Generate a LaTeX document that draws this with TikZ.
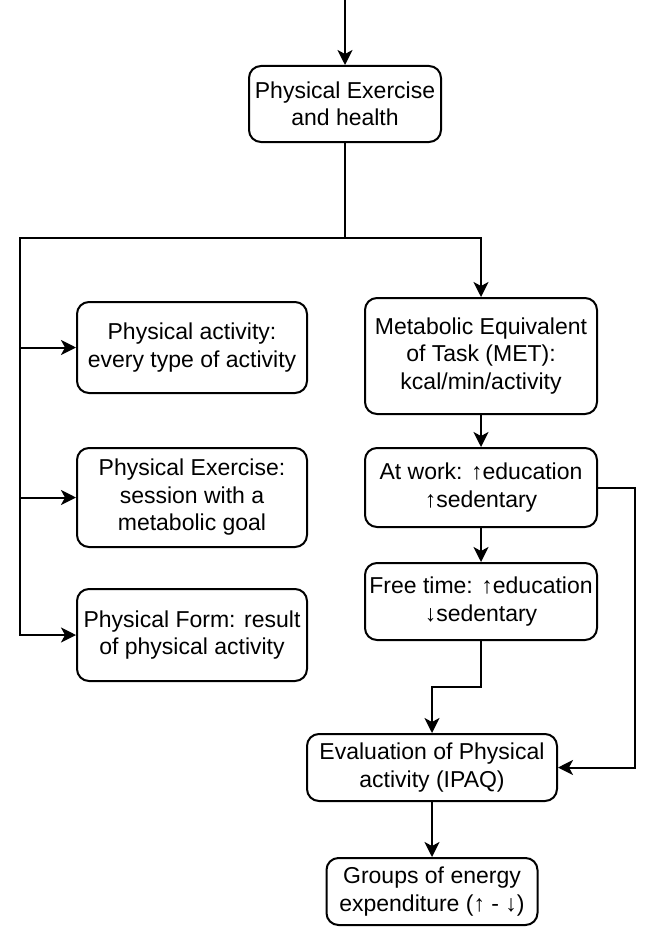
\documentclass[tikz,border=0pt]{standalone}
\usepackage{fontspec}
\setmainfont{Liberation Sans}
\usetikzlibrary{arrows.meta}
\begin{document}
\begin{tikzpicture}[x=1pt,y=-1pt,
  box/.style={draw,line width=2pt,rounded corners=12pt,align=center,
    inner sep=0pt,font=\fontsize{23}{27.5}\selectfont},
  link/.style={line width=2pt},
  arr/.style={link,-{Stealth[length=15pt,width=15pt,inset=4pt]}}]
  \fill[white] (0,0) rectangle (645,931);
  \useasboundingbox (0,0) rectangle (645,931);

  % boxes
  \node[box,minimum width=192pt,minimum height=76pt] (top) at (345,104) {Physical Exercise\\and health};
  \node[box,minimum width=230pt,minimum height=91pt] (pa) at (192,347.5) {Physical activity:\\every type of activity};
  \node[box,minimum width=230pt,minimum height=99pt] (pe) at (192,497.5) {Physical Exercise:\\session with a\\metabolic goal};
  \node[box,minimum width=230pt,minimum height=92pt] (pf) at (192,635) {Physical Form: result\\of physical activity};
  \node[box,minimum width=232pt,minimum height=116pt] (met) at (481,356) {Metabolic Equivalent\\of Task (MET):\\kcal/min/activity};
  \node[box,minimum width=232pt,minimum height=79pt] (work) at (481,487.5) {At work: ↑education\\↑sedentary};
  \node[box,minimum width=232pt,minimum height=77pt] (free) at (481,601.5) {Free time: ↑education\\↓sedentary};
  \node[box,minimum width=250pt,minimum height=67pt] (eval) at (432,767.5) {Evaluation of Physical\\activity (IPAQ)};
  \node[box,minimum width=211pt,minimum height=67pt] (groups) at (432,891.5) {Groups of energy\\expenditure (↑ - ↓)};

  % connectors
  \coordinate (entry) at (345,0);
  \coordinate (split) at (345,238);
  \coordinate (trunk) at (20,238);
  \draw[arr] (entry) -- (top);
  \draw[link] (top.south) -- (split);
  \draw[arr] (split) -| (met.north);
  \draw[arr] (split) -- (trunk) |- (pf.west);
  \draw[arr] (trunk |- pa.west) -- (pa.west);
  \draw[arr] (trunk |- pe.west) -- (pe.west);
  \draw[arr] (met) -- (work);
  \draw[arr] (work) -- (free);
  \draw[arr] (free.south) -- ++(0,46) -| (eval.north);
  \draw[arr] (work.east) -- ++(37,0) |- (eval.east);
  \draw[arr] (eval) -- (groups);
\end{tikzpicture}
\end{document}
